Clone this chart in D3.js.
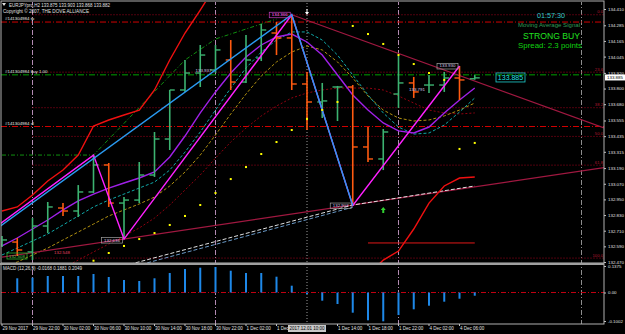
<!DOCTYPE html>
<html><head><meta charset="utf-8">
<script src="https://cdn.jsdelivr.net/npm/d3@7"></script>
<style>
body{margin:0;background:#000;overflow:hidden}
svg{display:block}
text{font-family:"Liberation Sans",Arial,sans-serif}
</style></head>
<body><svg id="c" width="625" height="334"></svg>
<script>
// ---------------- DATA ----------------
const symbolTitle = "EURJPYpro,H2 133.875 133.903 133.868 133.882";
const copyright = "Copyright \u00a9 2007, THE DOVE ALLIANCE";
const timeTickIdx = [0,2,4,6,8,10,12,14,16,18,22,24,26,28,30];
const timeTickLabels = ["29 Nov 2017","29 Nov 22:00","30 Nov 02:00","30 Nov 06:00","30 Nov 10:00","30 Nov 14:00","30 Nov 18:00","30 Nov 22:00","1 Dec 02:00","1 Dec","1 Dec 14:00","1 Dec 18:00","1 Dec 22:00","4 Dec 02:00","4 Dec 06:00"];
const cursorIdx = 20, cursorLabel = "2017.12.01 10:00";
const separatorIdx = [2,14,26,38];

const barOpen  = [132.600,132.623,132.547,132.746,132.884,132.861,133.007,133.214,132.922,132.945,133.137,133.413,133.789,133.919,133.942,134.019,133.850,134.034,134.226,134.188,133.835,133.697,133.812,133.812,133.352,133.260,133.758,133.843,133.827,133.827,133.881,133.875];
const barHigh  = [132.669,132.654,132.807,132.930,132.922,133.060,133.290,133.229,132.968,133.237,133.467,133.789,134.019,134.134,134.134,134.172,134.211,134.295,134.310,134.364,133.927,133.843,133.820,133.827,133.505,133.490,134.050,133.889,133.904,133.927,133.973,133.903];
const barLow   = [132.585,132.516,132.485,132.692,132.823,132.815,132.999,132.892,132.654,132.922,133.122,133.329,133.774,133.812,133.919,133.789,133.843,134.011,134.057,133.789,133.482,133.574,133.551,132.907,133.237,133.175,133.651,133.728,133.766,133.774,133.712,133.868];
const barClose = [132.639,132.562,132.746,132.892,132.861,133.007,133.214,132.922,132.945,133.137,133.413,133.789,133.919,134.057,134.096,133.850,134.019,134.249,134.188,133.835,133.697,133.705,133.812,133.352,133.260,133.467,133.843,133.774,133.827,133.881,133.866,133.882];

const macdIdx  = [1,2,3,4,5,6,7,8,9,10,11,12,13,14,15,16,17,18,19,20,21,22,23,24,25,26,27,28,29,30,31];
const macdHist = [0.0737,0.0768,0.0856,0.0856,0.0856,0.0960,0.0804,0.0649,0.0597,0.0737,0.1012,0.1219,0.1287,0.1323,0.1131,0.1012,0.1012,0.0820,0.0353,-0.0053,-0.0288,-0.0404,-0.0710,-0.0977,-0.1013,-0.0791,-0.0591,-0.0464,-0.0323,-0.0218,-0.0113];
const macdTitle = "MACD (12,26,9) -0.0168 0.1881 0.2049";
const macdTicks = [0.1375, 0, -0.1002];

const upperBand = [132.861,132.892,132.984,133.091,133.175,133.290,133.513,133.559,133.597,133.635,133.789,134.019,134.226,134.402,134.586,null,null,null,null,null,null,null,null,null,132.370,132.485,132.554,132.723,132.922,133.053,133.114,133.122];
const maPurple = [132.593,132.654,132.723,132.792,132.869,132.938,132.991,133.037,133.076,133.114,133.160,133.275,133.436,133.613,133.774,133.919,134.042,134.134,134.195,134.218,134.157,134.057,133.904,133.751,133.635,133.536,133.475,133.459,133.505,133.613,133.712,133.804];
const maTeal   = [132.524,132.577,132.631,132.685,132.754,132.823,132.892,132.945,132.991,133.037,133.083,133.175,133.313,133.467,133.635,133.804,133.958,134.080,134.172,134.234,134.234,134.172,134.057,133.904,133.751,133.613,133.505,133.451,133.459,133.520,133.620,133.728];
const maOlive  = [132.424,132.470,132.524,132.577,132.639,132.700,132.761,132.823,132.869,132.915,132.968,133.053,133.160,133.290,133.444,133.605,133.758,133.896,134.004,134.080,134.126,134.096,134.004,133.881,133.743,133.635,133.574,133.551,133.559,133.590,133.635,133.689];
const maDarkRed= [132.180,132.240,132.301,132.363,132.424,132.485,132.547,132.608,132.669,132.731,132.807,132.907,133.022,133.137,133.267,133.390,133.497,133.590,133.666,133.728,133.766,133.789,133.804,133.804,133.804,133.789,133.743,133.689,133.635,133.613,133.605,133.613];
const sarIdx   = [6,7,8,9,10,11,12,13,14,15,16,17,18,19,20,21,22,23,24,25,26,27,28,29,30,31];
const sarVal   = [132.480,132.539,132.593,132.646,132.692,132.754,132.823,132.907,132.999,133.106,133.198,133.298,133.390,133.482,133.567,133.636,133.697,134.280,134.218,134.142,134.057,133.988,133.919,133.866,133.337,133.383];
const greenTrailIdx = [0,6,12,14,18];
const greenTrailVal = [133.290,133.290,134.019,134.180,134.333];

const zigIdx   = [-3,6,8,19,23,30];
const zigVal   = [132.516,133.290,132.646,134.366,132.903,133.973];
const bigZigIdx= [-3,19,23];
const bigZigVal= [132.500,134.366,132.903];
const whiteLineIdx = [8,23,31];
const whiteLineVal = [132.440,132.907,133.053];
const blueGreyIdx  = [8,23];
const blueGreyVal  = [132.415,132.890];
const lowTrendIdx  = [8,23];
const lowTrendVal  = [132.646,132.907];
const highTrendIdx = [19,30];
const highTrendVal = [134.366,133.900];
const redLevelIdx  = [24,31];
const redLevelVal  = 132.616;
const arrowIdx = 25, arrowVal = 132.869;

const fiboHigh = 134.366, fiboLow = 132.500, fiboStartIdx = 2;
const fiboLevels = [0, 23.6, 38.2, 50.0, 61.8, 100.0];
const fiboLabels = ["0.0","23.6","38.2","50.0","61.8","100.0"];
const orderNames = ["#141304984 tp","#141304984 buy 1.00","#141304984 sl"];
const orderPrices = [134.310, 133.905, 133.509];
const priceTicks = [134.410,134.285,134.165,134.045,133.920,133.800,133.680,133.555,133.435,133.315,133.190,133.070,132.950,132.830,132.710,132.590,132.470];
const currentPrice = 133.885;
const pivotLabels = [
  {i:19, v:134.366, t:"134.366"},
  {i:14, v:133.937, t:"133.937"},
  {i:8,  v:132.638, t:"132.636"},
  {i:23, v:132.903, t:"132.903"},
  {i:30, v:133.973, t:"133.930"},
  {i:28, v:133.790, t:"133.791"}
];
const signalTime = "01:57:30", signalName = "Moving Average Signal", signalText = "STRONG BUY", spreadText = "Spread: 2.3 points";

// ---------------- CHART ----------------
const svg = d3.select("#c");
svg.append("rect").attr("width",625).attr("height",334).attr("fill","#000");
const PL=1, PR=604, PT=2, PB=263, MT=265, MB=324;
const x = d3.scaleLinear().domain([0,38]).range([2,581.5]);
const y = d3.scaleLinear().domain([132.470,134.410]).range([262,9]);
const ym = d3.scaleLinear().domain([-0.1002,0,0.1375]).range([321,292.5,266]);

const defs = svg.append("defs");
defs.append("clipPath").attr("id","cm").append("rect").attr("x",PL).attr("y",PT).attr("width",PR-PL).attr("height",PB-PT);
defs.append("clipPath").attr("id","cd").append("rect").attr("x",PL).attr("y",MT).attr("width",PR-PL).attr("height",MB-MT);
const g = svg.append("g").attr("clip-path","url(#cm)");
const gm = svg.append("g").attr("clip-path","url(#cd)");

const line = d3.line().defined(d=>d[1]!=null).x(d=>x(d[0])).y(d=>y(d[1]));
const series = arr => arr.map((v,i)=>[i,v]);
const pairs = (idx,val) => idx.map((k,j)=>[k,val[j]]);
const extend = (idx,val,i0,i1) => { const s=(val[1]-val[0])/(idx[1]-idx[0]); return [[i0,val[0]+s*(i0-idx[0])],[i1,val[0]+s*(i1-idx[0])]]; };
const iMax = x.invert(PR);

// separators & crosshair
separatorIdx.forEach(k=>{
  [g,gm].forEach(gg=>gg.append("line").attr("x1",x(k)).attr("x2",x(k)).attr("y1",0).attr("y2",334)
    .attr("stroke", k===separatorIdx[separatorIdx.length-1] ? "#8c8c8c" : "#b48cb4").attr("stroke-dasharray","5,2,1,2").attr("stroke-width",1));
});
[g,gm].forEach(gg=>gg.append("line").attr("x1",x(cursorIdx)).attr("x2",x(cursorIdx)).attr("y1",0).attr("y2",334)
  .attr("stroke","#9a9a9a").attr("stroke-dasharray","1,2"));

// fibo levels
fiboLevels.forEach((lv,j)=>{
  const v = fiboHigh - (fiboHigh-fiboLow)*lv/100;
  g.append("line").attr("x1",x(fiboStartIdx)).attr("x2",PR).attr("y1",y(v)).attr("y2",y(v))
    .attr("stroke","#a0001c").attr("stroke-dasharray","1,2");
  g.append("text").attr("x",PR-1).attr("y",y(v)-1.5).attr("text-anchor","end").attr("font-size",4.2).attr("fill","#b01830").text(fiboLabels[j]);
});

// order lines
orderNames.forEach((n,j)=>{
  const col = j===1 ? "#00a000" : "#d00000";
  g.append("line").attr("x1",PL).attr("x2",PR).attr("y1",y(orderPrices[j])).attr("y2",y(orderPrices[j]))
    .attr("stroke",col).attr("stroke-dasharray","6,2,1,2").attr("stroke-width",1);
  g.append("text").attr("x",5).attr("y",y(orderPrices[j])-2).attr("font-size",4.4).attr("fill","#e8e8e8").text(n);
});

// slow MAs
g.append("path").attr("d",line(series(maDarkRed))).attr("fill","none").attr("stroke","#900010").attr("stroke-dasharray","2,2");
g.append("path").attr("d",line(series(maOlive))).attr("fill","none").attr("stroke","#b09010").attr("stroke-dasharray","3,2");
g.append("path").attr("d",line(series(maTeal))).attr("fill","none").attr("stroke","#10a8a8").attr("stroke-dasharray","3,2");
g.append("path").attr("d",line(pairs(greenTrailIdx,greenTrailVal))).attr("fill","none").attr("stroke","#109010").attr("stroke-dasharray","4,2,1,2");

// trend lines
g.append("path").attr("d",line(extend(lowTrendIdx,lowTrendVal,0,iMax))).attr("fill","none").attr("stroke","#a01840").attr("stroke-width",1.2);
g.append("path").attr("d",line(extend(highTrendIdx,highTrendVal,highTrendIdx[0],iMax))).attr("fill","none").attr("stroke","#a01840").attr("stroke-width",1.2);
g.append("path").attr("d",line(pairs(blueGreyIdx,blueGreyVal))).attr("fill","none").attr("stroke","#6a9ac8").attr("stroke-dasharray","4,2");
g.append("path").attr("d",line(pairs(whiteLineIdx,whiteLineVal))).attr("fill","none").attr("stroke","#e0e0e0").attr("stroke-dasharray","4,2");
g.append("line").attr("x1",x(redLevelIdx[0])).attr("x2",x(redLevelIdx[1])).attr("y1",y(redLevelVal)).attr("y2",y(redLevelVal)).attr("stroke","#e01818");

// upper band (red)
g.append("path").attr("d",line(series(upperBand))).attr("fill","none").attr("stroke","#f01010").attr("stroke-width",1.4);

// purple MA
g.append("path").attr("d",line(series(maPurple))).attr("fill","none").attr("stroke","#a020e8").attr("stroke-width",1.4);

// bars
barOpen.forEach((o,i)=>{
  const c = barClose[i], up = c>=o;
  const col = up ? "#3cb371" : "#ff5a10";
  const xi = x(i);
  g.append("line").attr("x1",xi).attr("x2",xi).attr("y1",y(barHigh[i])).attr("y2",y(barLow[i])).attr("stroke",col).attr("stroke-width",1.6);
  g.append("line").attr("x1",xi-5).attr("x2",xi).attr("y1",y(o)).attr("y2",y(o)).attr("stroke",col).attr("stroke-width",1.4);
  g.append("line").attr("x1",xi).attr("x2",xi+5).attr("y1",y(c)).attr("y2",y(c)).attr("stroke",col).attr("stroke-width",1.4);
});

// zigzags
g.append("path").attr("d",line(pairs(zigIdx,zigVal))).attr("fill","none").attr("stroke","#ff20ff").attr("stroke-width",1.4);
g.append("path").attr("d",line(pairs(bigZigIdx,bigZigVal))).attr("fill","none").attr("stroke","#2a9af0").attr("stroke-width",1.4);

// SAR
sarIdx.forEach((k,j)=>g.append("rect").attr("x",x(k)-1).attr("y",y(sarVal[j])-1).attr("width",2).attr("height",2).attr("fill","#ffff00"));

// arrow
const ax = x(arrowIdx), ay = y(arrowVal);
g.append("path").attr("d",`M${ax},${ay-3}L${ax-2.5},${ay}L${ax-1},${ay}L${ax-1},${ay+3}L${ax+1},${ay+3}L${ax+1},${ay}L${ax+2.5},${ay}Z`).attr("fill","#30d030");

// pivot labels
pivotLabels.forEach((p,j)=>{
  const tx = x(p.i) - 12, ty = y(p.v);
  g.append("text").attr("x",tx).attr("y",ty+1.5).attr("text-anchor","middle").attr("font-size",4.4)
    .attr("fill", j===0 ? "#ff70ff" : "#d8c8e8").text(p.t);
  if (j!==1 && j!==5) g.append("rect").attr("x",tx-10.5).attr("y",ty-2.5).attr("width",21).attr("height",5.5).attr("fill","none").attr("stroke", j===0?"#c040c0":"#a0a0a0").attr("stroke-width",0.7);
});
g.append("text").attr("x",54).attr("y",y(132.53)).attr("font-size",4.4).attr("fill","#e04060").text("132.548");
g.append("rect").attr("x",7).attr("y",253).attr("width",20).attr("height",6).attr("fill","none").attr("stroke","#30b030").attr("stroke-width",0.8);
g.append("text").attr("x",17).attr("y",258).attr("text-anchor","middle").attr("font-size",4.4).attr("fill","#50d050").text("132.508");

// current price box on chart
g.append("rect").attr("x",496).attr("y",y(currentPrice)-4.5).attr("width",29).attr("height",9).attr("fill","none").attr("stroke","#20d0d0").attr("stroke-width",0.8);
g.append("text").attr("x",510.5).attr("y",y(currentPrice)+2.6).attr("text-anchor","middle").attr("font-size",7).attr("fill","#20e0e0").text(currentPrice.toFixed(3));

// signal texts
svg.append("text").attr("x",551).attr("y",17.5).attr("text-anchor","middle").attr("font-size",7.5).attr("fill","#30c8c8").attr("textLength",28).attr("lengthAdjust","spacingAndGlyphs").text(signalTime);
svg.append("text").attr("x",580).attr("y",27).attr("text-anchor","end").attr("font-size",5).attr("font-family","Liberation Serif").attr("fill","#2e9b57").attr("textLength",62).attr("lengthAdjust","spacingAndGlyphs").text(signalName);
svg.append("text").attr("x",580).attr("y",38.5).attr("text-anchor","end").attr("font-size",9).attr("font-family","Liberation Serif").attr("fill","#20e020").attr("textLength",57).attr("lengthAdjust","spacingAndGlyphs").text(signalText);
svg.append("text").attr("x",582).attr("y",47.5).attr("text-anchor","end").attr("font-size",7.5).attr("fill","#10d010").attr("textLength",64).attr("lengthAdjust","spacingAndGlyphs").text(spreadText);

// header
svg.append("path").attr("d","M2,3L6,3L4,6Z").attr("fill","#e0e0e0");
svg.append("text").attr("x",9).attr("y",7).attr("font-size",4.5).attr("fill","#e0e0e0").attr("textLength",101).attr("lengthAdjust","spacingAndGlyphs").text(symbolTitle);
svg.append("text").attr("x",3).attr("y",13).attr("font-size",4.5).attr("fill","#e0e0e0").attr("textLength",86).attr("lengthAdjust","spacingAndGlyphs").text(copyright);

// MACD
gm.append("line").attr("x1",PL).attr("x2",PR).attr("y1",ym(0)).attr("y2",ym(0)).attr("stroke","#c00010").attr("stroke-dasharray","5,2,1,2");
macdIdx.forEach((k,j)=>{
  const v = macdHist[j];
  gm.append("rect").attr("x",x(k)-1).attr("width",2).attr("y",Math.min(ym(v),ym(0))).attr("height",Math.abs(ym(v)-ym(0))).attr("fill","#1e88e8");
});
svg.append("text").attr("x",3).attr("y",270).attr("font-size",4.5).attr("fill","#e0e0e0").text(macdTitle);

// frames
svg.append("rect").attr("x",PL).attr("y",PT-1).attr("width",PR-PL).attr("height",PB-PT+1).attr("fill","none").attr("stroke","#b0b0b0").attr("stroke-width",1);
svg.append("rect").attr("x",PL).attr("y",MT-1).attr("width",PR-PL).attr("height",MB-MT+1).attr("fill","none").attr("stroke","#b0b0b0").attr("stroke-width",1);
svg.append("line").attr("x1",0).attr("x2",PR).attr("y1",264).attr("y2",264).attr("stroke","#a0a0a0").attr("stroke-width",2);

// price axis
const ax1 = svg.append("g").attr("transform",`translate(${PR},0)`).call(d3.axisRight(y).tickValues(priceTicks).tickSize(2).tickFormat(d3.format(".3f")));
ax1.select(".domain").remove();
ax1.selectAll("line").attr("stroke","#c0c0c0");
ax1.selectAll("text").attr("font-size",4.4).attr("fill","#e0e0e0").attr("x",4).attr("font-family","Liberation Sans");
svg.append("rect").attr("x",605).attr("y",y(currentPrice)-3).attr("width",20).attr("height",6).attr("fill","#ffffff");
svg.append("text").attr("x",607).attr("y",y(currentPrice)+1.6).attr("font-size",4.4).attr("fill","#000").text(currentPrice.toFixed(3));

const ax2 = svg.append("g").attr("transform",`translate(${PR},0)`).call(d3.axisRight(ym).tickValues(macdTicks).tickSize(2).tickFormat(d=>d===0?"0.00":String(d)));
ax2.select(".domain").remove();
ax2.selectAll("line").attr("stroke","#c0c0c0");
ax2.selectAll("text").attr("font-size",4.4).attr("fill","#e0e0e0").attr("x",4).attr("font-family","Liberation Sans");

// time axis
const tg = svg.append("g");
timeTickIdx.forEach((k,j)=>{
  tg.append("line").attr("x1",x(k)).attr("x2",x(k)).attr("y1",MB).attr("y2",MB+2).attr("stroke","#c0c0c0");
  tg.append("text").attr("x",x(k)+0.5).attr("y",330).attr("font-size",4.5).attr("fill","#e0e0e0").text(timeTickLabels[j]);
});
tg.append("rect").attr("x",x(cursorIdx)-19).attr("y",325).attr("width",38).attr("height",7).attr("fill","#c8c8c8");
tg.append("text").attr("x",x(cursorIdx)).attr("y",330).attr("text-anchor","middle").attr("font-size",4.5).attr("fill","#000").text(cursorLabel);

// mouse cursor marker near the top of the crosshair
svg.append("path").attr("d",`M${x(cursorIdx)},15L${x(cursorIdx)-2},12L${x(cursorIdx)-0.5},12L${x(cursorIdx)-0.5},9L${x(cursorIdx)+0.5},9L${x(cursorIdx)+0.5},12L${x(cursorIdx)+2},12Z`).attr("fill","#ffffff");
</script></body></html>
